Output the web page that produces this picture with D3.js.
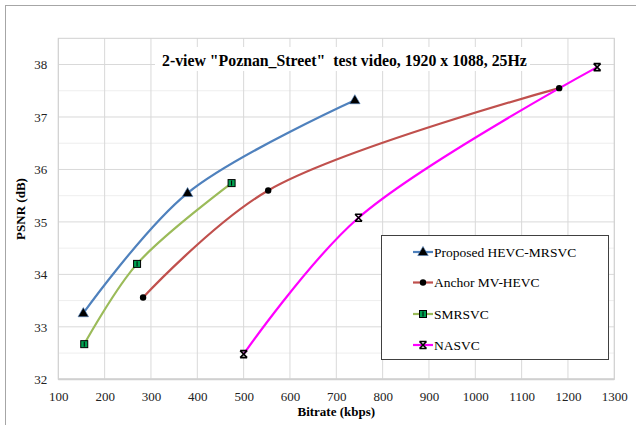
<!DOCTYPE html>
<html><head><meta charset="utf-8">
<script src="https://cdn.jsdelivr.net/npm/d3@7"></script>
<style>html,body{margin:0;padding:0;background:#fff;}svg{display:block;}</style>
</head><body>
<svg id="chart" width="636" height="425"></svg>
<script>
const titleText = '2-view "Poznan_Street"  test video, 1920 x 1088, 25Hz';
const xTicks = [100,200,300,400,500,600,700,800,900,1000,1100,1200,1300];
const yTicks = [32,33,34,35,36,37,38];
const seriesNames = ["Proposed HEVC-MRSVC","Anchor MV-HEVC","SMRSVC","NASVC"];
const proposedX = [154, 379, 740];
const proposedY = [33.26, 35.55, 37.32];
const anchorX = [283, 553, 1181];
const anchorY = [33.56, 35.60, 37.55];
const smrsvcX = [156, 270, 474];
const smrsvcY = [32.67, 34.20, 35.74];
const nasvcX = [500, 748, 1263];
const nasvcY = [32.48, 35.08, 37.95];
const colors = ["#4F81BD","#C0504D","#9BBB59","#FF00FF"];
const markers = ["triangle","circle","square","star"];

const svg = d3.select("#chart");
const L = 58.3, R = 614.3, T = 38.3, B = 379.3;
const x = d3.scaleLinear().domain([100,1300]).range([L,R]);
const y = d3.scaleLinear().domain([32,38.5]).range([B,T]);

// outer frame
svg.append("rect").attr("x",5.5).attr("y",5.5).attr("width",700).attr("height",700)
  .attr("fill","none").attr("stroke","#A6A6A6").attr("stroke-width",1);

// minor gridlines
const minorY = d3.range(32.5, 38.5, 1);
svg.append("g").selectAll("line").data(minorY).join("line")
  .attr("x1",L).attr("x2",R).attr("y1",d=>y(d)).attr("y2",d=>y(d))
  .attr("stroke","#EEEEEE").attr("stroke-width",1);
// major gridlines
svg.append("g").selectAll("line").data(yTicks).join("line")
  .attr("x1",L).attr("x2",R).attr("y1",d=>y(d)).attr("y2",d=>y(d))
  .attr("stroke","#D9D9D9").attr("stroke-width",1);
svg.append("g").selectAll("line").data(xTicks).join("line")
  .attr("x1",d=>x(d)).attr("x2",d=>x(d)).attr("y1",T).attr("y2",B)
  .attr("stroke","#D9D9D9").attr("stroke-width",1);
// plot border
svg.append("rect").attr("x",L).attr("y",T).attr("width",R-L).attr("height",B-T)
  .attr("fill","none").attr("stroke","#D0D0D0").attr("stroke-width",1);
svg.append("line").attr("x1",L).attr("x2",R).attr("y1",B).attr("y2",B)
  .attr("stroke","#D0D0D0").attr("stroke-width",2);

// axes via d3 axis
const xAxis = d3.axisBottom(x).tickValues(xTicks).tickSize(0).tickPadding(12).tickFormat(d3.format("d"));
const gx = svg.append("g").attr("transform",`translate(0,${B})`).call(xAxis);
gx.select(".domain").remove();
gx.selectAll("text").attr("font-family","'Liberation Serif', serif").attr("font-size",13).attr("fill","#222");
const yAxis = d3.axisLeft(y).tickValues(yTicks).tickSize(0).tickPadding(11).tickFormat(d3.format("d"));
const gy = svg.append("g").attr("transform",`translate(${L},0)`).call(yAxis);
gy.select(".domain").remove();
gy.selectAll("text").attr("font-family","'Liberation Serif', serif").attr("font-size",13).attr("fill","#222");

// axis titles
svg.append("text").attr("x",(L+R)/2).attr("y",416).attr("text-anchor","middle")
  .attr("font-family","'Liberation Serif', serif").attr("font-weight","bold").attr("font-size",13)
  .attr("fill","#000").text("Bitrate (kbps)");
svg.append("text").attr("transform","translate(25,209) rotate(-90)").attr("text-anchor","middle")
  .attr("font-family","'Liberation Serif', serif").attr("font-weight","bold").attr("font-size",13)
  .attr("fill","#000").text("PSNR (dB)");

// title with white background
svg.append("rect").attr("x",155).attr("y",47).attr("width",375).attr("height",24).attr("fill","#fff");
svg.append("text").attr("x",162).attr("y",66).attr("font-family","'Liberation Serif', serif")
  .attr("font-weight","bold").attr("font-size",15.8).attr("fill","#000")
  .style("white-space","pre").attr("xml:space","preserve").text(titleText);

// series
const data = [
  {xs:proposedX, ys:proposedY},
  {xs:anchorX, ys:anchorY},
  {xs:smrsvcX, ys:smrsvcY},
  {xs:nasvcX, ys:nasvcY}
];
const line = d3.line().x(d=>x(d[0])).y(d=>y(d[1])).curve(d3.curveCatmullRom.alpha(0.5));

function drawMarker(g, type, cx, cy, color){
  if(type==="triangle"){
    g.append("path").attr("d",d3.symbol(d3.symbolTriangle,48)()).attr("transform",`translate(${cx},${cy+0.5})`)
      .attr("fill","#000").attr("stroke","#4F81BD").attr("stroke-width",0.6);
  } else if(type==="circle"){
    g.append("circle").attr("cx",cx).attr("cy",cy).attr("r",3.2).attr("fill","#000");
  } else if(type==="square"){
    g.append("rect").attr("x",cx-3.5).attr("y",cy-3.5).attr("width",7).attr("height",7)
      .attr("fill","#00A050").attr("stroke","#000").attr("stroke-width",1);
    g.append("line").attr("x1",cx).attr("x2",cx).attr("y1",cy-2.5).attr("y2",cy+2.5).attr("stroke","#000").attr("stroke-width",1);
  } else {
    g.append("path").attr("d",`M${cx-3.5},${cy-3.5}L${cx+3.5},${cy+3.5}M${cx+3.5},${cy-3.5}L${cx-3.5},${cy+3.5}M${cx-3.5},${cy-3.5}H${cx+3.5}M${cx-3.5},${cy+3.5}H${cx+3.5}`)
      .attr("stroke","#000").attr("stroke-width",1.6).attr("fill","none");
  }
}

data.forEach((s,i)=>{
  const pts = s.xs.map((v,j)=>[v,s.ys[j]]);
  svg.append("path").datum(pts).attr("d",line).attr("fill","none")
    .attr("stroke",colors[i]).attr("stroke-width",2.2);
});
data.forEach((s,i)=>{
  const g = svg.append("g");
  s.xs.forEach((v,j)=>drawMarker(g, markers[i], x(v), y(s.ys[j]), colors[i]));
});

// legend
const lg = svg.append("g");
lg.append("rect").attr("x",381.5).attr("y",235.5).attr("width",227).attr("height",124)
  .attr("fill","#fff").attr("stroke","#404040").attr("stroke-width",1);
const legY = [252, 282.5, 314, 345];
seriesNames.forEach((n,i)=>{
  lg.append("line").attr("x1",413).attr("x2",433).attr("y1",legY[i]).attr("y2",legY[i])
    .attr("stroke",colors[i]).attr("stroke-width",2.2);
  drawMarker(lg, markers[i], 423, legY[i], colors[i]);
  lg.append("text").attr("x",434).attr("y",legY[i]+4.5).attr("font-family","'Liberation Serif', serif")
    .attr("font-size",13.5).attr("fill","#000").text(n);
});
</script>
</body></html>
